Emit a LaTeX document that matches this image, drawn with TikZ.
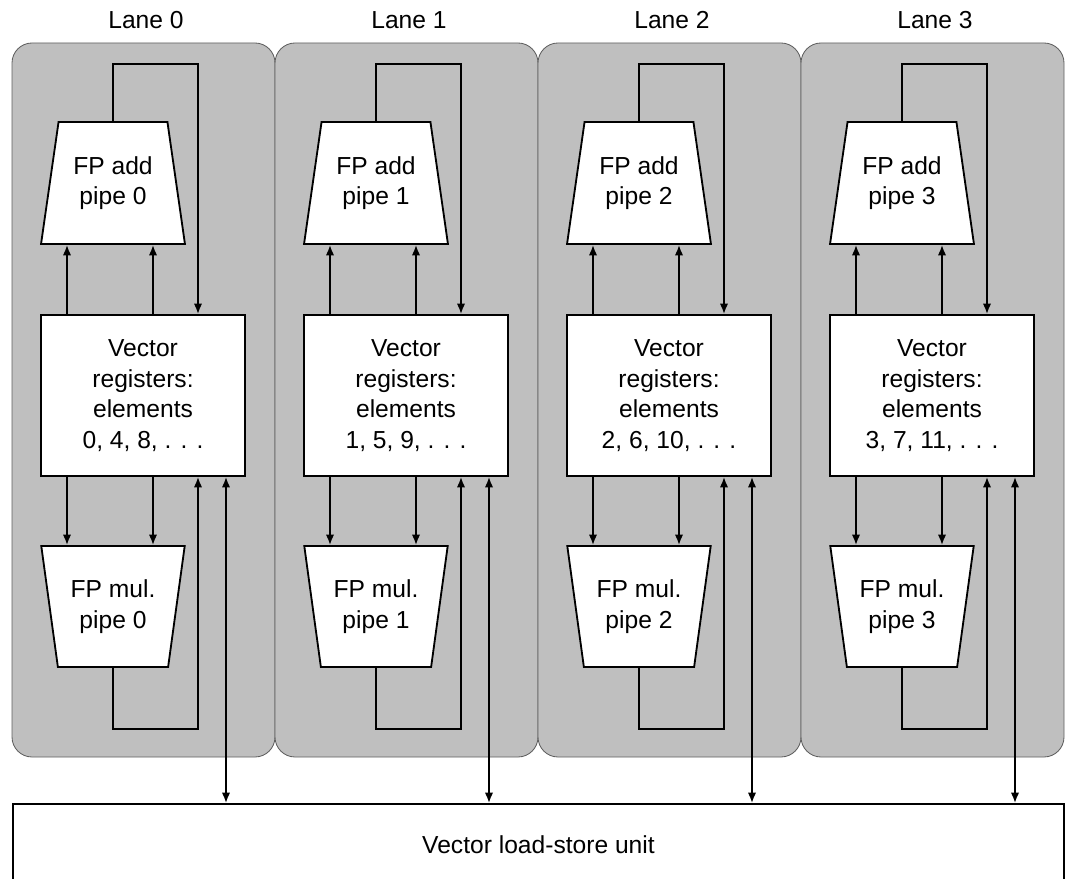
\documentclass[tikz,border=0pt]{standalone}
\usepackage{fontspec}
\setmainfont{Liberation Sans}
\usetikzlibrary{arrows.meta,shapes.geometric,calc}
\definecolor{lanegray}{RGB}{191,191,191}
\definecolor{laneedge}{RGB}{95,95,95}

\begin{document}
\begin{tikzpicture}[x=0.025cm, y=-0.025cm, line width=1.3pt,
  every node/.style={font=\fontsize{17.5}{21.8}\selectfont},
  arr/.style={-{Latex[length=2.6mm,width=2.1mm]}},
  dbl/.style={{Latex[length=2.6mm,width=2.1mm]}-{Latex[length=2.6mm,width=2.1mm]}},
  pipeadd/.style={draw,fill=white,trapezium,trapezium left angle=76.6,trapezium right angle=76.6,
    trapezium stretches=true,minimum width=3.6cm,minimum height=3.05cm,align=center,inner sep=0pt},
  pipemul/.style={pipeadd,trapezium left angle=103.4,trapezium right angle=103.4,minimum height=3.025cm},
  regbox/.style={draw,fill=white,minimum width=5.1cm,minimum height=4.025cm,align=center}]
  \useasboundingbox (0,0) rectangle (1068,879);
  % load-store unit across all lanes
  \node[draw,fill=white,minimum width=26.275cm,minimum height=2.05cm] (ls) at (538.5,845) {Vector load-store unit};
  \foreach \i/\elems in {0/{0, 4, 8, . . .},1/{1, 5, 9, . . .},2/{2, 6, 10, . . .},3/{3, 7, 11, . . .}}{
    \begin{scope}[shift={(\i*263,0)}]
      \fill[lanegray,draw=laneedge,line width=0.6pt,rounded corners=0.5cm] (12,43) rectangle (275,757);
      \node (lbl\i) at (146,20) {Lane \i};
      \node[pipeadd] (add\i) at (113,183) {FP add\\pipe \i};
      \node[regbox] (reg\i) at (143,395.5) {Vector\\registers:\\elements\\\elems};
      \node[pipemul] (mul\i) at (113,606.5) {FP mul.\\pipe \i};
      \coordinate (ua\i) at (67,280);
      \coordinate (ub\i) at (153,280);
      \coordinate (fa\i) at (198,64);
      \coordinate (fm\i) at (198,729);
      \coordinate (lsx\i) at (226,780);
      % operand and result paths
      \draw[arr] (ua\i |- reg\i.north) -- (ua\i |- add\i.south);
      \draw[arr] (ub\i |- reg\i.north) -- (ub\i |- add\i.south);
      \draw[arr] (ua\i |- reg\i.south) -- (ua\i |- mul\i.north);
      \draw[arr] (ub\i |- reg\i.south) -- (ub\i |- mul\i.north);
      \draw[arr] (add\i.north) |- (fa\i) -- (fa\i |- reg\i.north);
      \draw[arr] (mul\i.south) |- (fm\i) -- (fm\i |- reg\i.south);
      \draw[dbl] (lsx\i |- reg\i.south) -- (lsx\i |- ls.north);
    \end{scope}
  }
\end{tikzpicture}
\end{document}
